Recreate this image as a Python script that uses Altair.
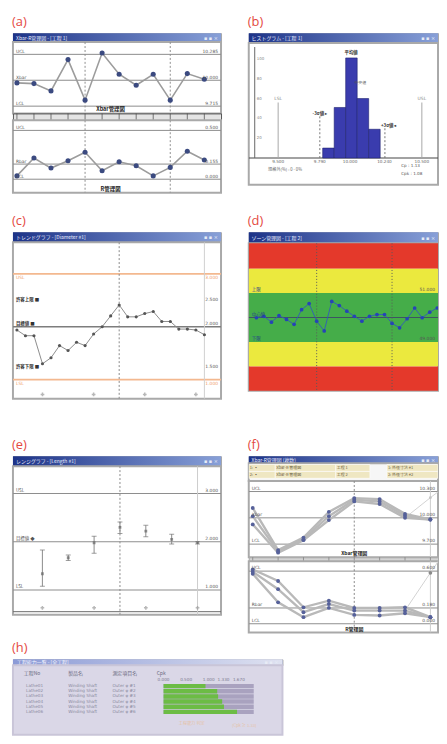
import altair as alt
import pandas as pd

# ---------------- data ----------------
# (a) Xbar-R control chart
A_SAMPLE = list(range(1, 13))
A_XBAR = [9.971, 9.963, 9.883, 10.227, 9.781, 10.300, 10.066, 9.945, 10.066, 9.781, 10.073, 10.011]
A_RANGE = [0.034, 0.217, 0.114, 0.190, 0.276, 0.086, 0.179, 0.138, 0.034, 0.121, 0.286, 0.197]
A_XBAR_LIMITS = [10.285, 10.000, 9.715]
A_R_LIMITS = [0.500, 0.155, 0.000]
A_XBAR_NAMES = ["UCL", "Xbar", "LCL"]
A_R_NAMES = ["UCL", "Rbar", "LCL"]
A_MARKS = [5, 10]

# (b) histogram
B_EDGES = [9.81, 9.89, 9.97, 10.05, 10.13, 10.21]
B_COUNTS = [10, 51, 101, 60, 29]
B_SPEC = [9.5, 10.5]
B_SPEC_NAMES = ["LSL", "USL"]
B_SPEC_TOP = [56, 56]
B_SIGMA = [9.79, 10.243]
B_SIGMA_TOP = [42, 30]
B_SIGMA_NAMES = ["-3σ値 ▸", "+3σ値 ◂"]
B_XTICKS = [9.5, 9.79, 10.0, 10.24, 10.5]
B_YTICKS = [20, 40, 60, 80, 100]
B_STATS = ["Cp  : 1.13", "Cpk : 1.08"]

# (c) trend chart
C_IDX = list(range(23))
C_VALUES = [1.938, 1.831, 1.831, 1.300, 1.413, 1.644, 1.550, 1.706, 1.644, 1.863, 2.000, 2.206,
            2.413, 2.188, 2.188, 2.250, 2.288, 2.100, 2.100, 1.956, 1.956, 1.938, 1.850]
C_SPEC = [3.0, 1.0]
C_SPEC_NAMES = ["USL", "LSL"]
C_TARGET = 2.0
C_INNER = [2.5, 2.05, 1.24]
C_INNER_NAMES = ["許容上限 ■", "目標値 ■", "許容下限 ■"]
C_INNER_VALUES = ["2.500", "2.000", "1.500"]
C_MARKS = [12]
C_TICKS = [3, 9, 15, 21]

# (d) zone chart
D_IDX = list(range(26))
D_VALUES = [49.99, 50.05, 49.81, 50.08, 49.92, 49.72, 50.32, 50.57, 49.85, 49.45, 50.66, 50.49, 50.26,
            50.05, 49.85, 50.05, 50.12, 50.12, 49.76, 49.58, 49.95, 50.39, 49.99, 50.22, 50.39, 50.12]
D_BAND_LO = [52.0, 51.0, 49.0, 48.0, 46.9]
D_BAND_HI = [53.1, 52.0, 51.0, 49.0, 48.0]
D_BAND_KIND = ["異常", "注意", "正常", "注意", "異常"]
D_LIMITS = [51.0, 50.0, 49.0]
D_LIMIT_NAMES = ["上限", "中心値", "下限"]
D_MARKS = [8, 18]

# (e) range chart
E_K = list(range(1, 8))
E_LO = [1.075, 1.610, 1.760, 2.171, 2.103, 1.952, 1.952]
E_HI = [1.829, 1.726, 2.116, 2.411, 2.342, 2.158, 2.000]
E_MID = [1.336, 1.668, 1.979, 2.300, 2.220, 2.050, 1.980]
E_LIMITS = [3.0, 2.0, 1.0]
E_NAMES = ["USL", "目標値 ◆", "LSL"]
E_TICKS = [1, 3, 5, 7]

# (f) multi-series Xbar-R chart
F_IDX = list(range(8))
F_X1 = [10.1125, 9.6325, 9.775, 10.0675, 10.225, 10.2138, 10.045, 9.981]
F_X2 = [10.019, 9.6175, 9.756, 10.019, 10.206, 10.1875, 10.0225, 9.981]
F_X3 = [9.925, 9.6025, 9.745, 9.974, 10.1875, 10.1575, 10.0, 9.981]
F_R1 = [0.619, 0.4875, 0.1875, 0.2625, 0.18, 0.18, 0.1875, 0.075]
F_R2 = [0.5925, 0.394, 0.131, 0.225, 0.15, 0.15, 0.15, 0.075]
F_R3 = [0.57, 0.244, 0.075, 0.18, 0.101, 0.094, 0.12, 0.075]
F_LIGHT_IDX = [6, 7, 8]
F_LIGHT_X = [10.0, 10.23, 10.45]
F_LIGHT_R = [0.15, 0.581, 1.0]
F_X_LIMITS = [10.3, 10.0, 9.7]
F_R_LIMITS = [0.6, 0.18, 0.0]
F_HEAD_ROW = [0, 0, 0, 0, 1, 1, 1, 1]
F_HEAD_X0 = [0, 14, 46, 73, 0, 14, 46, 73]
F_HEAD_X1 = [14, 46, 64, 100, 14, 46, 64, 100]
F_HEAD_TEXT = ["1: ▪", "Xbar-R 管理図", "工程 1", "1: 外径寸法 #1", "2: ▪", "Xbar-R 管理図", "工程 2", "2: 外径寸法 #2"]

# (h) capability list
H_HEAD = ["工程No", "製品名", "測定項目名", "Cpk"]
H_ROWS = [1, 2, 3, 4, 5, 6]
H_PROC = ["Lathe01", "Lathe02", "Lathe03", "Lathe04", "Lathe05", "Lathe06"]
H_PROD = ["Winding Shaft", "Winding Shaft", "Winding Shaft", "Winding Shaft", "Winding Shaft", "Winding Shaft"]
H_ITEM = ["Outer φ #1", "Outer φ #2", "Outer φ #3", "Outer φ #4", "Outer φ #5", "Outer φ #6"]
H_CPK = [0.93, 1.19, 1.21, 1.30, 1.34, 1.63]
H_SCALE = [0.0, 0.5, 1.0, 1.33, 1.67]
H_MAX = 2.0

# ---------------- styling helpers ----------------
JP = "Noto Sans CJK JP"
NUM = "DejaVu Sans"
LAB_RED = "#e4493f"
FRAME = "#a9a9a9"
BODY = alt.ViewBackground(fill="#ffffff", stroke=FRAME, strokeWidth=2)


def sc(lo, hi, reverse=False):
    if reverse:
        return alt.Scale(domain=[lo, hi], nice=False, zero=False, reverse=True)
    return alt.Scale(domain=[lo, hi], nice=False, zero=False)


def grad(c1, c2):
    return alt.LinearGradient(gradient="linear",
                              stops=[alt.GradientStop(color=c1, offset=0), alt.GradientStop(color=c2, offset=1)],
                              x1=0, x2=1, y1=0, y2=0)


def titlebar(w, h, caption, c1="#1d3388", c2="#88a0d8", tc="#e9edff"):
    u = sc(0, 1)
    bg = pd.DataFrame({"a": [0.0], "b": [1.0]})
    rect = alt.Chart(bg).mark_rect(color=grad(c1, c2)).encode(
        x=alt.X("a:Q", scale=u, axis=None), x2="b:Q",
        y=alt.Y("a:Q", scale=u, axis=None), y2="b:Q")
    df = pd.DataFrame({"x": [0.015], "y": [0.5], "t": [caption]})
    cap = alt.Chart(df).mark_text(align="left", fontSize=5, color=tc, font=JP, clip=True).encode(
        x=alt.X("x:Q", scale=u, axis=None), y=alt.Y("y:Q", scale=u, axis=None), text="t:N")
    btn = alt.Chart(pd.DataFrame({"x": [0.985], "y": [0.5], "t": ["▪ ▪ ×"]})).mark_text(
        align="right", fontSize=5, color="#e8ecf6", font=NUM, clip=True).encode(
        x=alt.X("x:Q", scale=u, axis=None), y=alt.Y("y:Q", scale=u, axis=None), text="t:N")
    return alt.layer(rect, cap, btn).properties(
        width=w, height=h, view=alt.ViewBackground(fill=c1, stroke=FRAME, strokeWidth=1))


def hrule(ysc, vals, color, width=1.0, dash=None):
    m = dict(color=color, strokeWidth=width, clip=True)
    if dash:
        m["strokeDash"] = dash
    return alt.Chart(pd.DataFrame({"y": vals})).mark_rule(**m).encode(y=alt.Y("y:Q", scale=ysc, axis=None))


def vrule(xsc, vals, color, width=1.0, dash=None):
    m = dict(color=color, strokeWidth=width, clip=True)
    if dash:
        m["strokeDash"] = dash
    return alt.Chart(pd.DataFrame({"x": vals})).mark_rule(**m).encode(x=alt.X("x:Q", scale=xsc, axis=None))


def seg(xsc, ysc, xs, y0, y1, color, width=1.0, dash=None):
    m = dict(color=color, strokeWidth=width, clip=True)
    if dash:
        m["strokeDash"] = dash
    df = pd.DataFrame({"x": xs, "y": y0, "y2": y1})
    return alt.Chart(df).mark_rule(**m).encode(
        x=alt.X("x:Q", scale=xsc, axis=None), y=alt.Y("y:Q", scale=ysc, axis=None), y2="y2:Q")


def series(xsc, ysc, xs, ys, lc, lw, pc, ps):
    df = pd.DataFrame({"x": xs, "y": ys})
    enc = dict(x=alt.X("x:Q", scale=xsc, axis=None), y=alt.Y("y:Q", scale=ysc, axis=None))
    line = alt.Chart(df).mark_line(color=lc, strokeWidth=lw, clip=True).encode(**enc)
    pts = alt.Chart(df).mark_circle(color=pc, size=ps, opacity=1, clip=True).encode(**enc)
    return alt.layer(line, pts)


def text(xsc, ysc, xs, ys, ts, size=5, color="#555555", align="left", baseline="middle",
         dx=0, dy=0, bold=False, font=JP):
    df = pd.DataFrame({"x": xs, "y": ys, "t": ts})
    return alt.Chart(df).mark_text(fontSize=size, color=color, align=align, baseline=baseline, dx=dx, dy=dy,
                                   fontWeight="bold" if bold else "normal", font=font, clip=True).encode(
        x=alt.X("x:Q", scale=xsc, axis=None), y=alt.Y("y:Q", scale=ysc, axis=None), text="t:N")


def panel(label, parts):
    return alt.vconcat(*parts, spacing=0, bounds="flush",
                       title=alt.TitleParams(text=label, anchor="start", color=LAB_RED, fontSize=13,
                                             font="Open Sans", fontWeight="normal", offset=4))


def fmt(vals):
    return [f"{v:.3f}" for v in vals]


# ---------------- (a) ----------------
XA = sc(0.767, 12.98)
YA1 = sc(9.635, 10.42)
YA2 = sc(-0.138, 0.603)
a_top = alt.layer(
    hrule(YA1, A_XBAR_LIMITS, "#8c8c8c", 1),
    vrule(XA, A_MARKS, "#8f8f8f", 1, [2, 2]),
    series(XA, YA1, A_SAMPLE, A_XBAR, "#9c9c9c", 1.6, "#3b4a80", 26),
    text(XA, YA1, [XA.domain[0]] * 3, A_XBAR_LIMITS, A_XBAR_NAMES, size=4.5, baseline="bottom", dx=3, font=NUM),
    text(XA, YA1, [XA.domain[1]] * 3, A_XBAR_LIMITS, fmt(A_XBAR_LIMITS), size=4.5, align="right",
         baseline="bottom", dx=-3, font=NUM),
    text(XA, YA1, [6.5], [YA1.domain[0]], ["Xbar管理図"], size=5.5, bold=True, color="#222222",
         align="center", baseline="bottom", dy=-1),
).properties(width=210, height=72, view=BODY)
a_strip = alt.Chart(pd.DataFrame({"x": A_SAMPLE})).mark_tick(color="#444444", size=7, thickness=1).encode(
    x=alt.X("x:Q", scale=XA, axis=None)
).properties(width=210, height=7, view=alt.ViewBackground(fill="#e4e4e4", stroke="#555555", strokeWidth=1))
a_bot = alt.layer(
    hrule(YA2, A_R_LIMITS, "#8c8c8c", 1),
    vrule(XA, A_MARKS, "#8f8f8f", 1, [2, 2]),
    series(XA, YA2, A_SAMPLE, A_RANGE, "#9c9c9c", 1.6, "#3b4a80", 26),
    text(XA, YA2, [XA.domain[0]] * 3, A_R_LIMITS, A_R_NAMES, size=4.5, baseline="bottom", dx=3, font=NUM),
    text(XA, YA2, [XA.domain[1]] * 3, A_R_LIMITS, fmt(A_R_LIMITS), size=4.5, align="right",
         baseline="bottom", dx=-3, font=NUM),
    text(XA, YA2, [6.5], [YA2.domain[0]], ["R管理図"], size=5.5, bold=True, color="#222222",
         align="center", baseline="bottom", dy=-1),
).properties(width=210, height=73, view=BODY)
panel_a = panel("(a)", [titlebar(210, 9, "Xbar-R管理図 - [工程 1]"), a_top, a_strip, a_bot])

# ---------------- (b) ----------------
XB = sc(9.330, 10.578)
YB = sc(-27, 116)
b_bars = alt.Chart(pd.DataFrame({"x0": B_EDGES[:-1], "x1": B_EDGES[1:], "n": B_COUNTS})).mark_bar(
    color="#3a3cae", stroke="#1f2170", strokeWidth=0.6, orient="vertical", clip=True).encode(
    x=alt.X("x0:Q", scale=XB, axis=None), x2="x1:Q", y=alt.Y("n:Q", scale=YB, axis=None))
b_body = alt.layer(
    hrule(YB, [0], "#444444", 1),
    seg(XB, YB, [9.337], [0], [112], "#666666", 1),
    text(XB, YB, [9.337] * 5, B_YTICKS, [str(v) for v in B_YTICKS], size=4, dx=2, color="#888888", font=NUM),
    seg(XB, YB, B_SPEC, [0, 0], B_SPEC_TOP, "#a8a8a8", 1),
    text(XB, YB, B_SPEC, [v + 2 for v in B_SPEC_TOP], B_SPEC_NAMES, size=4.5, align="center",
         baseline="bottom", color="#888888", font=NUM),
    b_bars,
    seg(XB, YB, B_SIGMA, [0, 0], B_SIGMA_TOP, "#777777", 1, [2, 2]),
    text(XB, YB, B_SIGMA[:1], B_SIGMA_TOP[:1], B_SIGMA_NAMES[:1], size=4.5, align="center",
         baseline="bottom", color="#333333", bold=True),
    text(XB, YB, B_SIGMA[1:], B_SIGMA_TOP[1:], B_SIGMA_NAMES[1:], size=4.5, align="left",
         baseline="bottom", dx=-4, color="#333333", bold=True),
    text(XB, YB, [10.008], [max(B_COUNTS) + 3], ["平均値"], size=4.5, align="center",
         baseline="bottom", color="#333333", bold=True),
    text(XB, YB, [10.03], [76], ["中央値"], size=4, align="left", color="#555555"),
    text(XB, YB, B_XTICKS, [-2] * 5, fmt(B_XTICKS), size=4.2, align="center", baseline="top",
         color="#666666", font=NUM),
    text(XB, YB, [9.43], [-12], ["規格外(%) : 0 - 0%"], size=4.2, color="#666666"),
    text(XB, YB, [10.356, 10.356], [-8, -16], B_STATS, size=4.2, color="#555555", font=NUM),
).properties(width=191, height=143, view=BODY)
panel_b = panel("(b)", [titlebar(191, 10, "ヒストグラム - [工程 1]"), b_body])

# ---------------- (c) ----------------
XC = sc(-0.465, 23.95)
YC = sc(0.6375, 3.6)
c_body = alt.layer(
    hrule(YC, C_SPEC, "#f3b88f", 1.8),
    hrule(YC, [C_TARGET], "#7d7d7d", 1.4),
    vrule(XC, C_MARKS, "#8a8a8a", 1, [2, 2]),
    vrule(XC, [22], "#cfcfcf", 1),
    series(XC, YC, C_IDX, C_VALUES, "#8c8c8c", 1, "#555555", 10),
    text(XC, YC, [XC.domain[0]] * 2, [v - 0.08 for v in C_SPEC], C_SPEC_NAMES, size=4.5, dx=3,
         color="#ef9e6a", font=NUM),
    text(XC, YC, [XC.domain[1]] * 2, [v - 0.08 for v in C_SPEC], fmt(C_SPEC), size=4.5, align="right",
         dx=-3, color="#ef9e6a", font=NUM),
    text(XC, YC, [XC.domain[0]] * 3, C_INNER, C_INNER_NAMES, size=4.5, dx=3, bold=True, color="#333333"),
    text(XC, YC, [XC.domain[1]] * 3, C_INNER, C_INNER_VALUES, size=4.5, align="right", dx=-3,
         color="#555555", font=NUM),
    alt.Chart(pd.DataFrame({"x": C_TICKS, "y": [0.72] * 4})).mark_point(
        shape="cross", size=14, color="#9a9a9a", filled=True, clip=True).encode(
        x=alt.X("x:Q", scale=XC, axis=None), y=alt.Y("y:Q", scale=YC, axis=None)),
).properties(width=210, height=158, view=BODY)
panel_c = panel("(c)", [titlebar(210, 10, "トレンドグラフ - [Diameter #1]"), c_body])

# ---------------- (d) ----------------
XD = sc(-1.01, 24.1)
YD = sc(47.0, 53.04)
d_bands = alt.Chart(pd.DataFrame({"lo": D_BAND_LO, "hi": D_BAND_HI, "k": D_BAND_KIND})).mark_rect(clip=True).encode(
    y=alt.Y("lo:Q", scale=YD, axis=None), y2="hi:Q",
    color=alt.Color("k:N", scale=alt.Scale(domain=["異常", "注意", "正常"],
                                           range=["#e4392b", "#ebe93e", "#45ad49"]), legend=None))
d_body = alt.layer(
    d_bands,
    hrule(YD, [D_LIMITS[1]], "#3d5563", 1.2),
    vrule(XD, D_MARKS, "#5a5a5a", 1, [1, 2]),
    series(XD, YD, D_IDX, D_VALUES, "#3050c8", 0.8, "#2644b6", 14),
    text(XD, YD, [XD.domain[0]] * 3, D_LIMITS, D_LIMIT_NAMES, size=4.5, dx=3, dy=-3, color="#24408a"),
    text(XD, YD, [XD.domain[1]] * 2, [D_LIMITS[0], D_LIMITS[2]], fmt([D_LIMITS[0], D_LIMITS[2]]),
         size=4.5, align="right", dx=-3, dy=-3, color="#555555", font=NUM),
).properties(width=191, height=149, view=BODY)
panel_d = panel("(d)", [titlebar(191, 11, "ゾーン管理図 - [工程 2]"), d_body])

# ---------------- (e) ----------------
XE = sc(-0.138, 7.908)
YE = sc(0.486, 3.568)
e_df = pd.DataFrame({"x": E_K, "lo": E_LO, "hi": E_HI, "mid": E_MID})
ex = alt.X("x:Q", scale=XE, axis=None)
e_body = alt.layer(
    hrule(YE, E_LIMITS, "#8e8e8e", 1.2),
    hrule(YE, [0.55], "#6a6a6a", 1),
    vrule(XE, [4], "#8a8a8a", 1, [2, 2]),
    vrule(XE, [7], "#cccccc", 1),
    alt.Chart(e_df).mark_rule(color="#8a8a8a", strokeWidth=1, clip=True).encode(
        x=ex, y=alt.Y("lo:Q", scale=YE, axis=None), y2="hi:Q"),
    alt.Chart(e_df).mark_tick(color="#777777", size=5, thickness=1, orient="horizontal", clip=True).encode(
        x=ex, y=alt.Y("lo:Q", scale=YE, axis=None)),
    alt.Chart(e_df).mark_tick(color="#777777", size=5, thickness=1, orient="horizontal", clip=True).encode(
        x=ex, y=alt.Y("hi:Q", scale=YE, axis=None)),
    alt.Chart(e_df).mark_point(shape="square", size=8, color="#666666", filled=True, clip=True).encode(
        x=ex, y=alt.Y("mid:Q", scale=YE, axis=None)),
    alt.Chart(pd.DataFrame({"x": E_TICKS, "y": [0.63] * 4})).mark_point(
        shape="cross", size=14, color="#9a9a9a", filled=True, clip=True).encode(
        x=ex, y=alt.Y("y:Q", scale=YE, axis=None)),
    text(XE, YE, [XE.domain[0]] * 3, [v + 0.06 for v in E_LIMITS], E_NAMES, size=4.5, dx=3, color="#555555"),
    text(XE, YE, [XE.domain[1]] * 3, [v + 0.06 for v in E_LIMITS], fmt(E_LIMITS), size=4.5, align="right",
         dx=-3, color="#555555", font=NUM),
).properties(width=210, height=150, view=BODY)
panel_e = panel("(e)", [titlebar(210, 10, "レンジグラフ - [Length #1]"), e_body])

# ---------------- (f) ----------------
XF = sc(-0.156, 7.30)
YF1 = sc(9.55, 10.42)
YF2 = sc(-0.101, 0.7125)
fx = alt.X("x:Q", scale=XF, axis=None)


def multi(ysc, v1, v2, v3):
    rows = []
    for name, vals in (("1", v1), ("2", v2), ("3", v3)):
        for i, v in zip(F_IDX, vals):
            rows.append({"x": i, "y": v, "s": name})
    df = pd.DataFrame(rows)
    fy = alt.Y("y:Q", scale=ysc, axis=None)
    return alt.layer(
        alt.Chart(df).mark_line(color="#b9b9b9", strokeWidth=2.4, clip=True).encode(x=fx, y=fy, detail="s:N"),
        alt.Chart(df).mark_circle(color="#56619a", size=15, opacity=1, clip=True).encode(x=fx, y=fy),
    )


f_head_df = pd.DataFrame({"x0": F_HEAD_X0, "x1": F_HEAD_X1, "r0": F_HEAD_ROW,
                          "r1": [r + 1 for r in F_HEAD_ROW], "t": F_HEAD_TEXT})
HX = sc(0, 100)
HY = sc(-0.2, 2.4, reverse=True)
f_head = alt.layer(
    alt.Chart(f_head_df).mark_rect(color="#efe7c2", stroke="#ffffff", strokeWidth=0.6, clip=True).encode(
        x=alt.X("x0:Q", scale=HX, axis=None), x2="x1:Q", y=alt.Y("r0:Q", scale=HY, axis=None), y2="r1:Q"),
    alt.Chart(f_head_df.assign(ym=[r + 0.5 for r in F_HEAD_ROW])).mark_text(
        fontSize=4, align="left", dx=1, color="#6a6040", font=JP, clip=True).encode(
        x=alt.X("x0:Q", scale=HX, axis=None), y=alt.Y("ym:Q", scale=HY, axis=None), text="t:N"),
).properties(width=191, height=18, view=alt.ViewBackground(fill="#f6f6f6", stroke=FRAME, strokeWidth=2))
f_top = alt.layer(
    hrule(YF1, F_X_LIMITS, "#8e8e8e", 1),
    vrule(XF, [4], "#8a8a8a", 1, [2, 2]),
    vrule(XF, [7], "#cccccc", 1),
    series(XF, YF1, F_LIGHT_IDX, F_LIGHT_X, "#d2d2d2", 1, "#c4c4c4", 8),
    multi(YF1, F_X1, F_X2, F_X3),
    text(XF, YF1, [XF.domain[0]] * 3, F_X_LIMITS, A_XBAR_NAMES, size=4.5, dx=3, dy=-3, font=NUM),
    text(XF, YF1, [XF.domain[1]] * 3, F_X_LIMITS, fmt(F_X_LIMITS), size=4.5, align="right", dx=-3, dy=-3,
         font=NUM),
    text(XF, YF1, [4], [YF1.domain[0]], ["Xbar管理図"], size=5, bold=True, color="#222222",
         align="center", baseline="bottom", dy=-1),
).properties(width=191, height=77, view=BODY)
f_strip = alt.Chart(pd.DataFrame({"x": F_IDX})).mark_tick(color="#777777", size=4, thickness=1).encode(
    x=fx).properties(width=191, height=4, view=alt.ViewBackground(fill="#d4d4d4", stroke=FRAME, strokeWidth=1))
f_bot = alt.layer(
    hrule(YF2, F_R_LIMITS, "#8e8e8e", 1),
    vrule(XF, [4], "#8a8a8a", 1, [2, 2]),
    vrule(XF, [7], "#cccccc", 1),
    series(XF, YF2, F_LIGHT_IDX, F_LIGHT_R, "#d2d2d2", 1, "#8a8a8a", 14),
    multi(YF2, F_R1, F_R2, F_R3),
    text(XF, YF2, [XF.domain[0]] * 3, F_R_LIMITS, A_R_NAMES, size=4.5, dx=3, dy=-3, font=NUM),
    text(XF, YF2, [XF.domain[1]] * 3, F_R_LIMITS, fmt(F_R_LIMITS), size=4.5, align="right", dx=-3, dy=-3,
         font=NUM),
    text(XF, YF2, [4], [YF2.domain[0]], ["R管理図"], size=5, bold=True, color="#222222",
         align="center", baseline="bottom", dy=-1),
).properties(width=191, height=72, view=BODY)
panel_f = panel("(f)", [titlebar(191, 7, "Xbar-R管理図 (複数)"), f_head, f_top, f_strip, f_bot])

# ---------------- (h) ----------------
HC = sc(-0.246, 5.84)
HK = sc(-3.34, 2.637)
HR = sc(-3.04, 10.42, reverse=True)
hy = alt.Y("y:Q", scale=HR, axis=None)
h_text_rows = []
for col, vals in ((0.05, H_PROC), (1.0, H_PROD), (2.0, H_ITEM)):
    for r, v in zip(H_ROWS, vals):
        h_text_rows.append({"x": col, "y": r, "t": v})
h_cells = pd.DataFrame(h_text_rows)
h_bar_df = pd.DataFrame({"y": H_ROWS, "k0": [0.0] * len(H_ROWS), "kmax": [H_MAX] * len(H_ROWS), "k": H_CPK})
h_body = alt.layer(
    alt.layer(
        alt.Chart(pd.DataFrame({"x": [0, 1, 2, 3], "y": [-1.5] * 4, "t": H_HEAD})).mark_text(
            fontSize=5, align="left", color="#6a6a80", font=JP).encode(
            x=alt.X("x:Q", scale=HC, axis=None), y=hy, text="t:N"),
        alt.Chart(h_cells).mark_text(fontSize=4.2, align="left", color="#8a8aa0", font=NUM, clip=True).encode(
            x=alt.X("x:Q", scale=HC, axis=None), y=hy, text="t:N"),
        alt.Chart(pd.DataFrame({"x": [3.5, 4.7], "y": [8.4, 8.7], "t": ["工程能力 判定", "(Cpk ≥ 1.33)"]})).mark_text(
            fontSize=4.2, align="left", color="#e6c2a6", font=JP, clip=True).encode(
            x=alt.X("x:Q", scale=HC, axis=None), y=hy, text="t:N"),
    ),
    alt.layer(
        alt.Chart(h_bar_df).mark_rule(color="#a9a2bf", strokeWidth=4.5, strokeCap="butt", clip=True).encode(
            x=alt.X("k0:Q", scale=HK, axis=None), x2="kmax:Q", y=hy),
        alt.Chart(h_bar_df).mark_rule(color="#6cbc45", strokeWidth=4.5, strokeCap="butt", clip=True).encode(
            x=alt.X("k0:Q", scale=HK, axis=None), x2="k:Q", y=hy),
        alt.Chart(pd.DataFrame({"k": H_SCALE, "y": [-0.15] * len(H_SCALE), "t": fmt(H_SCALE)})).mark_text(
            fontSize=4.2, align="center", color="#7a7a90", font=NUM, clip=True).encode(
            x=alt.X("k:Q", scale=HK, axis=None), y=hy, text="t:N"),
    ),
).resolve_scale(x="independent").properties(
    width=272, height=70, view=alt.ViewBackground(fill="#dad7e7", stroke="#c9c5d8", strokeWidth=2))
panel_h = panel("(h)", [titlebar(272, 6, "工程能力一覧 - [全工程]", c1="#8b9ad6", c2="#dfe2f1", tc="#f4f5ff"),
                        h_body])

# ---------------- layout ----------------
row1 = alt.hconcat(panel_a, panel_b, spacing=26)
row2 = alt.hconcat(panel_c, panel_d, spacing=26)
row3 = alt.hconcat(panel_e, panel_f, spacing=26)

chart = alt.vconcat(
    alt.vconcat(alt.vconcat(row1, row2, spacing=21), row3, spacing=39),
    panel_h, spacing=8,
).properties(
    padding={"left": 4, "top": 4, "right": 0, "bottom": 0}
).configure_view(stroke=None)

chart.save("out.html", embed_options={"renderer": "svg", "actions": False})
